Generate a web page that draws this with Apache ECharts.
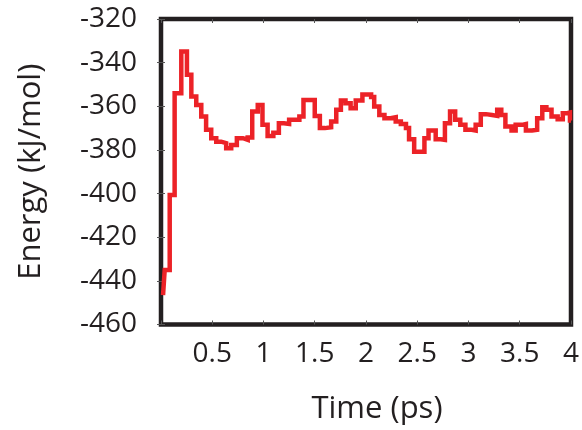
<!DOCTYPE html>
<html>
<head>
<meta charset="utf-8">
<script src="https://cdn.jsdelivr.net/npm/echarts@6/dist/echarts.min.js"></script>
<style>
html,body{margin:0;padding:0;background:#fff;}
#c{width:582px;height:430px;}
</style>
</head>
<body>
<div id="c"></div>
<script>
// Time (ps) at which each step begins
const times = [0.02, 0.036, 0.085, 0.133, 0.198, 0.253, 0.296, 0.344, 0.393, 0.44,
  0.49, 0.539, 0.587, 0.636, 0.685, 0.74, 0.80, 0.846, 0.89, 0.944,
  0.99, 1.04, 1.096, 1.15, 1.20, 1.25, 1.35, 1.39, 1.50, 1.55,
  1.60, 1.66, 1.71, 1.755, 1.80, 1.85, 1.90, 1.965, 2.05, 2.08,
  2.13, 2.18, 2.24, 2.29, 2.34, 2.39, 2.42, 2.47, 2.57, 2.61,
  2.68, 2.73, 2.77, 2.82, 2.87, 2.92, 2.97, 3.03, 3.07, 3.12,
  3.17, 3.23, 3.28, 3.32, 3.36, 3.42, 3.46, 3.52, 3.56, 3.62,
  3.67, 3.72, 3.76, 3.81, 3.87, 3.92, 3.96, 3.99, 4.0];
// Energy (kJ/mol)
const energy = [-446.5, -435.0, -400.6, -354.0, -334.9, -345.6, -355.5, -359.4, -364.7, -370.8,
  -374.6, -376.2, -376.9, -379.2, -377.7, -374.6, -375.4, -374.3, -362.4, -359.4,
  -368.5, -373.6, -372.1, -367.8, -368.1, -366.2, -364.7, -357.1, -364.4, -370.0,
  -369.6, -367.0, -361.6, -357.4, -358.6, -360.9, -357.4, -354.6, -355.8, -360.1,
  -364.0, -365.5, -365.0, -367.0, -368.1, -370.0, -375.1, -380.8, -374.6, -371.1,
  -375.1, -375.4, -367.8, -362.4, -366.2, -368.5, -370.8, -371.1, -368.5, -363.6,
  -364.0, -364.4, -361.6, -364.0, -369.3, -371.1, -368.5, -368.1, -371.1, -370.8,
  -365.5, -360.4, -361.6, -364.7, -365.9, -363.2, -362.9, -366.5, -366.5];
const xTickLabels = ['0.5', '1', '1.5', '2', '2.5', '3', '3.5', '4'];
const yTickLabels = ['-460', '-440', '-420', '-400', '-380', '-360', '-340', '-320'];

const data = times.map((t, i) => [t, energy[i]]);
const ink = '#231f20';
const font = 'Open Sans';

const chart = echarts.init(document.getElementById('c'), null, {renderer: 'canvas'});
chart.setOption({
  backgroundColor: '#fff',
  animation: false,
  grid: {
    left: 161, right: 9.5, top: 19, bottom: 105.5,
    show: true, borderColor: ink, borderWidth: 4.5, backgroundColor: 'transparent'
  },
  xAxis: [{
    type: 'value', min: 0, max: 4, interval: 0.5,
    name: 'Time (ps)', nameLocation: 'middle', nameGap: 69,
    nameTextStyle: {fontFamily: font, fontSize: 31, color: ink, padding: [0, 0, 0, 22]},
    axisLine: {show: false},
    axisTick: {show: true, inside: true, length: 4, lineStyle: {color: '#555', width: 1}},
    splitLine: {show: false},
    axisLabel: {
      fontFamily: font, fontSize: 28, color: ink, margin: 16,
      formatter: v => xTickLabels.includes(String(v)) ? String(v) : ''
    }
  }, {
    type: 'value', min: 0, max: 4, interval: 0.5, position: 'top',
    axisLine: {show: false}, axisLabel: {show: false}, splitLine: {show: false},
    axisTick: {show: true, inside: true, length: 4, lineStyle: {color: '#555', width: 1}}
  }],
  yAxis: [{
    type: 'value', min: -460, max: -320, interval: 20,
    name: 'Energy (kJ/mol)', nameLocation: 'middle', nameGap: 114,
    nameTextStyle: {fontFamily: font, fontSize: 31, color: ink},
    axisLine: {show: false},
    axisTick: {show: true, inside: true, length: 4, lineStyle: {color: '#555', width: 1}},
    splitLine: {show: false},
    axisLabel: {
      fontFamily: font, fontSize: 28, color: ink, margin: 24,
      formatter: v => yTickLabels.includes(String(v)) ? String(v) : ''
    }
  }, {
    type: 'value', min: -460, max: -320, interval: 20, position: 'right',
    axisLine: {show: false}, axisLabel: {show: false}, splitLine: {show: false},
    axisTick: {show: true, inside: true, length: 4, lineStyle: {color: '#555', width: 1}}
  }],
  series: [{
    type: 'line', step: 'end', data: data,
    xAxisIndex: 0, yAxisIndex: 0,
    showSymbol: false, symbol: 'none',
    lineStyle: {color: '#ec2227', width: 4.5, join: 'miter'},
    z: 1
  }]
});
</script>
</body>
</html>
